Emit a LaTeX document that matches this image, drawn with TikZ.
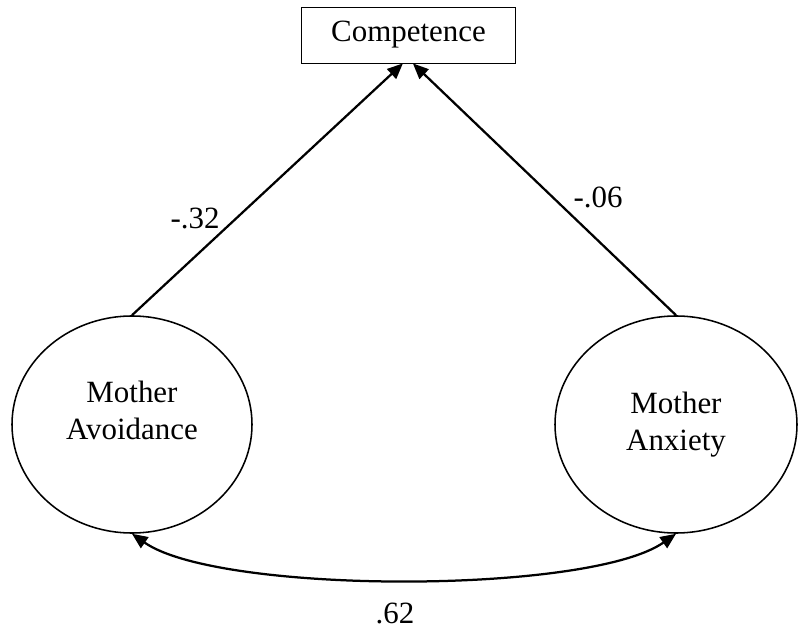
\documentclass[tikz,border=0pt]{standalone}
\usepackage{fontspec}
\setmainfont{Liberation Serif}
\usepackage{tikz}
\usetikzlibrary{arrows.meta,shapes.geometric}

\begin{document}
\begin{tikzpicture}[
  font=\fontsize{22}{26}\selectfont,
  factor/.style={draw, line width=1.1pt, ellipse, inner sep=0pt},
  indicator/.style={draw, line width=0.6pt, minimum width=5.33cm, minimum height=1.4cm, inner sep=0pt},
  path/.style={line width=1.6pt, -{Triangle[length=3.9mm,width=3.3mm]}},
  corr/.style={line width=1.6pt, {Triangle[length=3.9mm,width=3.3mm]}-{Triangle[length=3.9mm,width=3.3mm]}}
]
\useasboundingbox (0,0) rectangle (20,15.725);

\node [indicator] (comp) at (10.2125,14.85) {Competence};

\node [factor, minimum width=6cm, minimum height=5.425cm,
       label={[align=center, yshift=0.35cm]center:Mother\\Avoidance}] (avoid) at (3.3,5.1125) {};
\node [factor, minimum width=6.05cm, minimum height=5.425cm,
       label={[align=center]center:Mother\\Anxiety}] (anx) at (16.9,5.1125) {};

\draw [path] (avoid.north) -- ([xshift=-0.14cm]comp.south);
\draw [path] (anx.north) -- ([xshift=0.11cm]comp.south);
\draw [corr] (avoid.south) to [out=-35, in=-145, looseness=0.5] (anx.south);

\node (l32) at (4.875,10.275) {-.32};
\node (l06) at (14.95,10.8) {-.06};
\node (l62) at (9.875,0.4) {.62};

\end{tikzpicture}
\end{document}
